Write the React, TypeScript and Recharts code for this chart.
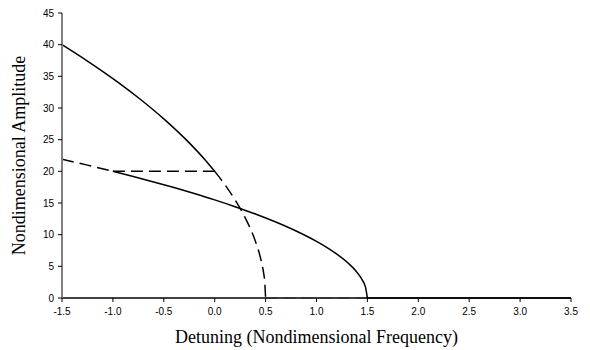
import { LineChart, Line, XAxis, YAxis, Label } from "recharts"

// detuning ticks and amplitude ticks
const xTicks = [-1.5, -1.0, -0.5, 0.0, 0.5, 1.0, 1.5, 2.0, 2.5, 3.0, 3.5]
const yTicks = [0, 5, 10, 15, 20, 25, 30, 35, 40, 45]

// upper stable branch (solid)
const upperX = [-1.5, -1.25, -1.0, -0.75, -0.5, -0.25, -0.1, 0.0]
const upperY = [40.0, 37.41, 34.64, 31.62, 28.28, 24.49, 21.91, 20.0]

// lower stable branch (solid)
const lowerX = [-1.0, -0.8, -0.6, -0.4, -0.2, 0.0, 0.2, 0.4, 0.6, 0.8, 1.0, 1.1, 1.2, 1.3, 1.4, 1.45, 1.48, 1.5]
const lowerY = [20.0, 19.18, 18.33, 17.44, 16.49, 15.49, 14.42, 13.27, 12.0, 10.58, 8.94, 8.0, 6.93, 5.66, 4.0, 2.83, 1.79, 0]

// trivial solution beyond 1.5 (solid)
const zeroX = [1.5, 3.5]
const zeroY = [0, 0]

// unstable parts (dashed)
const dashAX = [-1.5, -1.25, -1.0]
const dashAY = [21.91, 20.98, 20.0]
const dashFlatX = [-1.0, 0.0]
const dashFlatY = [20.0, 20.0]
const dashBX = [0.0, 0.1, 0.2, 0.3, 0.4, 0.45, 0.48, 0.49, 0.5]
const dashBY = [20.0, 17.89, 15.49, 12.65, 8.94, 6.32, 4.0, 2.83, 0]
const dashZeroX = [0.5, 1.5]
const dashZeroY = [0, 0]

const pts = (xs: number[], ys: number[]) => xs.map((x, i) => ({ x, y: ys[i] }))

const tickStyle = { fill: "#000", fontSize: 10, fontFamily: "Liberation Sans, Arial, sans-serif" }
const labelFont = "Liberation Serif, Times New Roman, serif"
const dash = "12 6"

export default function App() {
  return (
    <div>
      <style>{"body{margin:0}"}</style>
      <LineChart width={590} height={350} margin={{ top: 13, right: 19, bottom: 0, left: 0 }}>
        <XAxis
          dataKey="x"
          type="number"
          domain={[-1.5, 3.5]}
          ticks={xTicks}
          tickFormatter={(v: number) => v.toFixed(1)}
          allowDataOverflow
          height={52}
          stroke="#000"
          tickSize={4}
          tickMargin={6}
          tick={tickStyle}
          axisLine={{ stroke: "#000", strokeWidth: 1.5 }}
        >
          <Label
            value="Detuning (Nondimensional Frequency)"
            position="insideBottom"
            offset={7}
            style={{ fontSize: 18, fontFamily: labelFont, fill: "#000" }}
          />
        </XAxis>
        <YAxis
          dataKey="y"
          type="number"
          domain={[0, 45]}
          ticks={yTicks}
          width={62}
          tickSize={4}
          tickMargin={4}
          tick={tickStyle}
          axisLine={{ stroke: "#808080", strokeWidth: 2 }}
          tickLine={{ stroke: "#000" }}
        >
          <Label
            value="Nondimensional Amplitude"
            angle={-90}
            position="insideLeft"
            offset={19}
            style={{ fontSize: 18, fontFamily: labelFont, fill: "#000", textAnchor: "middle" }}
          />
        </YAxis>
        <Line data={pts(dashZeroX, dashZeroY)} dataKey="y" type="linear" stroke="#bbb" strokeWidth={1.5} strokeDasharray={dash} dot={false} isAnimationActive={false} />
        <Line data={pts(upperX, upperY)} dataKey="y" type="monotone" stroke="#000" strokeWidth={1.5} dot={false} isAnimationActive={false} />
        <Line data={pts(lowerX, lowerY)} dataKey="y" type="monotone" stroke="#000" strokeWidth={1.5} dot={false} isAnimationActive={false} />
        <Line data={pts(zeroX, zeroY)} dataKey="y" type="linear" stroke="#000" strokeWidth={1.5} dot={false} isAnimationActive={false} />
        <Line data={pts(dashAX, dashAY)} dataKey="y" type="monotone" stroke="#000" strokeWidth={1.5} strokeDasharray={dash} dot={false} isAnimationActive={false} />
        <Line data={pts(dashFlatX, dashFlatY)} dataKey="y" type="linear" stroke="#000" strokeWidth={1.5} strokeDasharray={dash} dot={false} isAnimationActive={false} />
        <Line data={pts(dashBX, dashBY)} dataKey="y" type="monotone" stroke="#000" strokeWidth={1.5} strokeDasharray={dash} dot={false} isAnimationActive={false} />
      </LineChart>
    </div>
  )
}
